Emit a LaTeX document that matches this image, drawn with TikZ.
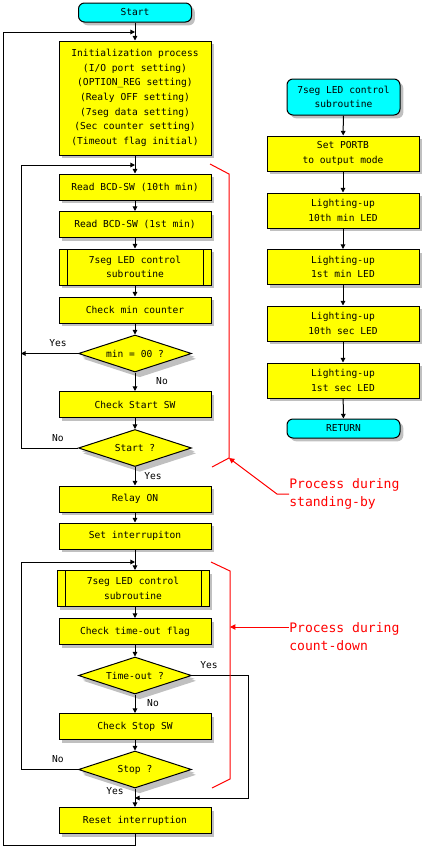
\documentclass[tikz,border=0pt]{standalone}
\usepackage{fontspec}
\newfontfamily\gothic{DejaVu Sans Mono}
\usetikzlibrary{shapes.geometric,arrows.meta,shadows}
\definecolor{boxyellow}{RGB}{255,255,0}
\definecolor{termcyan}{RGB}{0,255,255}
\definecolor{shadowgray}{RGB}{192,192,192}
\definecolor{notered}{RGB}{255,0,0}
\tikzset{
  txt/.style={font=\gothic\fontsize{7.2}{11}\selectfont, align=center, inner sep=1pt},
  base/.style={txt, draw=black, line width=0.75pt,
    general shadow={fill=shadowgray, shadow xshift=2.5pt, shadow yshift=-2.5pt}},
  proc/.style={base, fill=boxyellow, minimum width=114pt, minimum height=19.5pt},
  tallproc/.style={proc, minimum height=26.25pt},
  subproc/.style={proc, minimum height=27pt,
    path picture={
      \draw[line width=0.75pt] ([xshift=6pt]path picture bounding box.north west) -- ([xshift=6pt]path picture bounding box.south west);
      \draw[line width=0.75pt] ([xshift=-6pt]path picture bounding box.north east) -- ([xshift=-6pt]path picture bounding box.south east);
    }},
  term/.style={base, fill=termcyan, rounded corners=4.5pt, minimum width=84.75pt, minimum height=14.25pt},
  decide/.style={base, fill=boxyellow, diamond, aspect=3, inner sep=0pt,
    minimum width=84.75pt, minimum height=27.75pt,
    general shadow={fill=shadowgray, shadow xshift=3.5pt, shadow yshift=-4pt}},
  flow/.style={line width=0.75pt, -{Triangle[length=3.5pt,width=3.5pt]}},
  line/.style={line width=0.75pt},
  redline/.style={draw=notered, line width=0.75pt},
  redflow/.style={redline, -{Triangle[length=4pt,width=4pt]}},
  note/.style={text=notered, font=\gothic\fontsize{9.8}{14}\selectfont, align=left, anchor=west, inner sep=0pt},
}

\begin{document}
\begin{tikzpicture}[x=0.75pt,y=-0.75pt]
  \useasboundingbox (0,0) rectangle (441,847);

  % main flow
  \node[term] (start) at (135,12.5) {Start};
  \node[proc, minimum height=85.5pt] (init) at (135,98) {Initialization process\\(I/O port setting)\\(OPTION\_REG setting)\\(Realy OFF setting)\\(7seg data setting)\\(Sec counter setting)\\(Timeout flag initial)};
  \node[proc] (bcd10) at (135,187) {Read BCD-SW (10th min)};
  \node[proc] (bcd1) at (135,224.5) {Read BCD-SW (1st min)};
  \node[subproc] (sub1) at (135,267) {7seg LED control\\subroutine};
  \node[proc] (chkmin) at (135,310) {Check min counter};
  \node[decide] (minq) at (135,353.5) {min = 00 ?};
  \node[proc] (chkstart) at (135,404.5) {Check Start SW};
  \node[decide] (startq) at (135,448) {Start ?};
  \node[proc] (relay) at (135,499) {Relay ON};
  \node[proc] (setint) at (135,536) {Set interrupiton};
  \node[subproc] (sub2) at (133,588.5) {7seg LED control\\subroutine};
  \node[proc] (chkto) at (135,631.5) {Check time-out flag};
  \node[decide] (toq) at (135,675.5) {Time-out ?};
  \node[proc] (chkstop) at (135,726.5) {Check Stop SW};
  \node[decide] (stopq) at (135,769.5) {Stop ?};
  \node[proc] (reset) at (135,820.5) {Reset interruption};

  % subroutine
  \node[term, minimum height=27pt] (subtop) at (343.5,97) {7seg LED control\\subroutine};
  \node[tallproc] (portb) at (343,153.5) {Set PORTB\\to output mode};
  \node[tallproc] (led1) at (343,210.5) {Lighting-up\\10th min LED};
  \node[tallproc] (led2) at (343,267) {Lighting-up\\1st min LED};
  \node[tallproc] (led3) at (343,323.5) {Lighting-up\\10th sec LED};
  \node[tallproc] (led4) at (343,380.5) {Lighting-up\\1st sec LED};
  \node[term] (ret) at (343.5,428.5) {RETURN};

  % junctions
  \coordinate (j0) at (135,32);
  \coordinate (j1) at (135,165);
  \coordinate (j2) at (135,562);
  \coordinate (j3) at (135,798);
  \coordinate (outB) at (3,845);
  \coordinate (outT) at (3,32);
  \coordinate (in1) at (21,165);
  \coordinate (in2) at (21,562);
  \coordinate (outR) at (248,798);

  % connectors
  \draw[flow] (start) -- (init);
  \draw[flow] (init) -- (bcd10);
  \draw[flow] (bcd10) -- (bcd1);
  \draw[flow] (bcd1) -- (sub1);
  \draw[flow] (sub1) -- (chkmin);
  \draw[flow] (chkmin) -- (minq);
  \draw[flow] (minq) -- (chkstart);
  \draw[flow] (chkstart) -- (startq);
  \draw[flow] (startq) -- (relay);
  \draw[flow] (relay) -- (setint);
  \draw[flow] (setint) -- (sub2.north -| setint);
  \draw[flow] (sub2.south -| chkto) -- (chkto);
  \draw[flow] (chkto) -- (toq);
  \draw[flow] (toq) -- (chkstop);
  \draw[flow] (chkstop) -- (stopq);
  \draw[flow] (stopq) -- (reset);
  \draw[flow] (reset.south) |- (outB) -- (outT) -- (j0);
  \draw[flow] (minq.west) -- (minq.west -| in1);
  \draw[flow] (startq.west) -| (in1) -- (j1);
  \draw[flow] (stopq.west) -| (in2) -- (j2);
  \draw[flow] (toq.east) -| (outR) -- (j3);

  \draw[flow] (subtop) -- (portb);
  \draw[flow] (portb) -- (led1);
  \draw[flow] (led1) -- (led2);
  \draw[flow] (led2) -- (led3);
  \draw[flow] (led3) -- (led4);
  \draw[flow] (led4) -- (ret);

  % branch labels
  \node[txt] (yes1) at (58,343) {Yes};
  \node[txt] (no1) at (162,381) {No};
  \node[txt] (no2) at (58,438) {No};
  \node[txt] (yes2) at (153,476) {Yes};
  \node[txt] (yes3) at (209,665) {Yes};
  \node[txt] (no3) at (153,703) {No};
  \node[txt] (no4) at (58,759) {No};
  \node[txt] (yes4) at (115,791) {Yes};

  % red notes
  \coordinate (br1) at (229,458);
  \coordinate (br2) at (230,627);
  \draw[redline] (210,164) -- (229,174) -- (br1) -- (212,467);
  \draw[redline] (211,562) -- (230,571) -- (230,779) -- (212,788);
  \node[note] (note1) at (289,494) {Process during\\standing-by};
  \node[note] (note2) at (289,636.5) {Process during\\count-down};
  \draw[redflow] (note1.west) -- (277,494) -- (br1);
  \draw[redflow] (br2 -| note2.west) -- (br2);
\end{tikzpicture}
\end{document}
